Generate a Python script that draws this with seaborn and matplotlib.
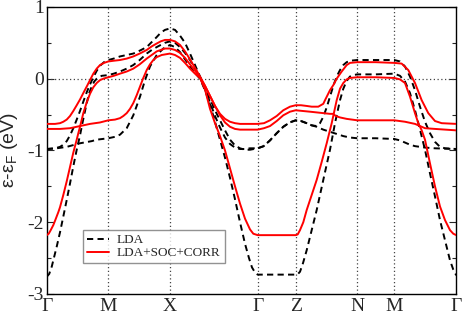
import matplotlib
matplotlib.use("Agg")
import matplotlib.pyplot as plt
from matplotlib.lines import Line2D
from matplotlib.ticker import MultipleLocator
import seaborn as sns
import pandas as pd

# ---------------- data ----------------
KPOINT_POS = [0, 61.6, 123.3, 211.0, 249.0, 310.6, 347.6, 409.6]
KPOINT_LBL = ["Γ", "M", "X", "Γ", "Z", "N", "M", "Γ"]
YTICKS = [-3, -2, -1, 0, 1]
YTICK_LBL = ["-3", "-2", "-1", "0", "1"]
SERIES = ["LDA", "LDA+SOC+CORR"]

# LDA bands (black dashed)
LDA1_K = [0, 8.3, 13.3, 16.6, 20, 23.3, 26.6, 30, 33.3, 36.6, 40, 43.3, 46.6, 50, 53.3, 57.3, 61.6,
          67, 73.3, 80, 86.6, 93, 100, 105, 110, 114, 118.3, 123.3,
          128.3, 133.3, 138.3, 143.3, 148.3, 153.3, 158.3, 163.3, 168.3, 173.3, 178.3, 183.3, 188.3, 193.3, 198.3, 203.3, 211,
          217, 223.3, 230, 236.6, 243, 249,
          254.3, 260, 265, 270, 273.3, 276.6, 280, 283.3, 286.6, 290, 293.3, 296.6, 300, 303.3, 310.6,
          329, 347.6,
          353.3, 358.3, 363.3, 368.3, 373.3, 378.3, 383.3, 388.3, 393.3, 398.3, 409.6]
LDA1_E = [-0.98, -0.97, -0.95, -0.92, -0.87, -0.79, -0.69, -0.57, -0.45, -0.32, -0.19, -0.08, 0.02, 0.11, 0.18, 0.23, 0.26,
          0.28, 0.31, 0.33, 0.35, 0.39, 0.44, 0.51, 0.58, 0.64, 0.68, 0.70,
          0.68, 0.60, 0.50, 0.35, 0.19, 0.03, -0.13, -0.28, -0.44, -0.58, -0.72, -0.85, -0.93, -0.97, -0.99, -0.99, -0.97,
          -0.94, -0.86, -0.76, -0.67, -0.61, -0.58,
          -0.59, -0.62, -0.65, -0.66, -0.62, -0.53, -0.40, -0.25, -0.10, 0.03, 0.12, 0.19, 0.23, 0.25, 0.26,
          0.26, 0.26,
          0.24, 0.17, 0.03, -0.16, -0.39, -0.60, -0.76, -0.88, -0.95, -0.97, -0.98]

LDA2_K = [0, 2.5, 5, 7.5, 10, 13.3, 16.6, 20, 23.3, 26.6, 30, 33.3, 35, 36.6, 40, 42.5, 45, 47.5, 50, 55, 61.6,
          67, 73.3, 80, 86.6, 93, 100, 105, 110, 114, 118.3, 123.3,
          128.3, 133.3, 138.3, 143.3, 148.3, 153.3, 158.3, 163.3, 168.3, 173.3, 178.3, 183.3, 188.3, 193.3, 198.3, 203.3, 211,
          217, 223.3, 230, 236.6, 243, 249,
          254.3, 260, 265, 270, 276.6, 283.3, 290, 296.6, 303.3, 310.6,
          329, 347.6,
          353.3, 358.3, 363.3, 368.3, 373.3, 378.3, 388.3, 409.6]
LDA2_E = [-2.76, -2.72, -2.62, -2.48, -2.34, -2.14, -1.92, -1.69, -1.46, -1.22, -0.99, -0.79, -0.67, -0.56, -0.34, -0.20, -0.11, -0.04, 0.0, 0.04, 0.05,
          0.07, 0.10, 0.14, 0.19, 0.26, 0.35, 0.40, 0.44, 0.47, 0.50, 0.52,
          0.50, 0.44, 0.36, 0.26, 0.14, 0.02, -0.15, -0.33, -0.52, -0.68, -0.82, -0.91, -0.96, -0.98, -0.98, -0.97, -0.97,
          -0.94, -0.86, -0.76, -0.67, -0.61, -0.58,
          -0.59, -0.62, -0.65, -0.67, -0.71, -0.74, -0.77, -0.80, -0.82, -0.83,
          -0.83, -0.84,
          -0.86, -0.89, -0.92, -0.94, -0.95, -0.96, -0.97, -0.98]

LDA3_K = [0, 10, 20, 33.3, 45, 50, 61.6,
          68.3, 73.3, 80, 86.6, 93.3, 98.3, 103.3, 110, 116.6, 123.3,
          128.3, 133.3, 138.3, 143.3, 148.3, 153.3, 158.3, 163.3, 168.3, 173.3, 178.3, 183.3, 188.3, 193.3, 198.3, 202.3, 205.3, 208.3, 211,
          249,
          251.3, 253.3, 256.3, 260, 265, 270, 276.6, 283.3, 288.3, 293.3, 296.6, 300, 303.3, 306.6, 310.6,
          329, 347.6,
          353.3, 358.3, 363.3, 368.3, 373.3, 378.3, 383.3, 388.3, 393.3, 398.3, 403.3, 406.6, 409.6]
LDA3_E = [-0.98, -0.97, -0.95, -0.90, -0.87, -0.85, -0.83,
          -0.81, -0.78, -0.69, -0.51, -0.25, -0.02, 0.17, 0.33, 0.42, 0.47,
          0.44, 0.37, 0.27, 0.17, 0.08, 0.0, -0.16, -0.36, -0.60, -0.85, -1.10, -1.38, -1.68, -2.0, -2.3, -2.5, -2.63, -2.70, -2.73,
          -2.73,
          -2.72, -2.69, -2.57, -2.39, -2.11, -1.83, -1.41, -0.99, -0.62, -0.30, -0.14, -0.03, 0.03, 0.05, 0.06,
          0.06, 0.07,
          0.04, -0.04, -0.20, -0.44, -0.71, -0.99, -1.32, -1.64, -1.97, -2.25, -2.53, -2.66, -2.74]

# LDA+SOC+CORR bands (red)
CORR1_K = [0, 8.3, 13.3, 16.6, 20, 23.3, 26.6, 30, 33.3, 36.6, 40, 43.3, 46.6, 50, 53.3, 57.3, 61.6,
           67, 73.3, 80, 86.6, 93, 100, 105, 110, 114, 118.3, 123.3,
           128.3, 133.3, 138.3, 143.3, 148.3, 153.3, 158.3, 163.3, 168.3, 173.3, 178.3, 183.3, 188.3, 193.3, 211,
           217.3, 223.3, 230, 236.6, 243.3, 249,
           254.3, 260, 265, 271.6, 276.6, 278.3, 283.3, 286.6, 290, 295, 300, 303.3, 310.6,
           329, 347.6,
           355, 361.6, 368.3, 375, 381.6, 388.3, 395, 409.6]
CORR1_E = [-0.63, -0.63, -0.62, -0.60, -0.57, -0.52, -0.45, -0.37, -0.29, -0.20, -0.11, -0.02, 0.07, 0.14, 0.19, 0.22, 0.24,
           0.25, 0.26, 0.28, 0.31, 0.35, 0.40, 0.45, 0.49, 0.52, 0.54, 0.54,
           0.52, 0.47, 0.38, 0.27, 0.15, 0.03, -0.10, -0.24, -0.38, -0.49, -0.56, -0.60, -0.62, -0.63, -0.63,
           -0.62, -0.58, -0.52, -0.44, -0.39, -0.37,
           -0.37, -0.38, -0.39, -0.39, -0.35, -0.30, -0.16, -0.09, 0.0, 0.10, 0.19, 0.22, 0.23,
           0.23, 0.22,
           0.21, 0.12, -0.06, -0.30, -0.48, -0.59, -0.62, -0.63]

CORR2_K = [0, 2, 4, 6.6, 8.3, 11.6, 13.3, 16.6, 20, 23.3, 26.6, 30, 31.6, 33.3, 36.6, 40, 43.3, 46.6, 50, 53.3, 56.6, 61.6,
           67, 73.3, 80, 86.6, 93, 100, 105, 110, 114, 118.3, 123.3,
           128.3, 133.3, 138.3, 143.3, 148.3, 153.3, 158.3, 163.3, 168.3, 173.3, 178.3, 183.3, 188.3, 193.3, 211,
           217.3, 223.3, 230, 236.6, 243.3, 249,
           256, 263.3, 270, 276.6, 283.3, 286.6, 289, 293.3, 300, 310.6,
           329, 347.6,
           358.3, 368.3, 373.3, 378.3, 388.3, 409.6]
CORR2_E = [-2.18, -2.16, -2.11, -2.04, -1.98, -1.86, -1.79, -1.62, -1.43, -1.23, -1.03, -0.85, -0.76, -0.67, -0.48, -0.33, -0.21, -0.12, -0.06, -0.02, 0.0, 0.02,
           0.04, 0.07, 0.10, 0.14, 0.20, 0.28, 0.33, 0.38, 0.40, 0.42, 0.42,
           0.40, 0.36, 0.29, 0.20, 0.11, 0.02, -0.10, -0.24, -0.38, -0.51, -0.61, -0.67, -0.70, -0.71, -0.71,
           -0.69, -0.66, -0.59, -0.51, -0.46, -0.44,
           -0.45, -0.46, -0.47, -0.48, -0.49, -0.49, -0.52, -0.54, -0.56, -0.58,
           -0.58, -0.58,
           -0.60, -0.63, -0.66, -0.69, -0.70, -0.72]

CORR3_K = [0, 13.3, 23.3, 33.3, 43.3, 53.3, 61.6,
           68.3, 73.3, 76.6, 80, 83.3, 86.6, 90, 93.3, 96.6, 100, 103.3, 106.6, 110, 115, 123.3,
           128.3, 133.3, 138.3, 143.3, 148.3, 153.3, 158.3, 163.3, 168.3, 173.3, 178.3, 183.3, 188.3, 193.3, 198.3, 203.3, 206.6, 211,
           249,
           251, 253.3, 256.6, 260, 265, 270, 275, 280, 285, 290, 293.3, 296.6, 300, 303.3, 310.6,
           329, 347.6,
           353.3, 358.3, 363.3, 368.3, 371.6, 375, 378.3, 383.3, 388.3, 393.3, 398.3, 403.3, 406.6, 409.6]
CORR3_E = [-0.70, -0.70, -0.69, -0.66, -0.63, -0.61, -0.58,
           -0.57, -0.55, -0.52, -0.48, -0.42, -0.34, -0.23, -0.11, 0.01, 0.12, 0.20, 0.26, 0.30, 0.33, 0.35,
           0.33, 0.29, 0.22, 0.14, 0.07, 0.01, -0.15, -0.42, -0.62, -0.80, -1.00, -1.25, -1.50, -1.74, -1.95, -2.10, -2.16, -2.18,
           -2.18,
           -2.17, -2.11, -2.0, -1.83, -1.62, -1.41, -1.16, -0.90, -0.62, -0.30, -0.14, -0.06, -0.01, 0.01, 0.02,
           0.02, 0.01,
           -0.01, -0.06, -0.25, -0.48, -0.62, -0.72, -0.85, -1.18, -1.50, -1.78, -1.97, -2.11, -2.16, -2.18]

# ---------------- build table ----------------
frames = []
for name, series, k, e in [
    ("L1", SERIES[0], LDA1_K, LDA1_E),
    ("L2", SERIES[0], LDA2_K, LDA2_E),
    ("L3", SERIES[0], LDA3_K, LDA3_E),
    ("C1", SERIES[1], CORR1_K, CORR1_E),
    ("C2", SERIES[1], CORR2_K, CORR2_E),
    ("C3", SERIES[1], CORR3_K, CORR3_E),
]:
    frames.append(pd.DataFrame({"k": k, "E": e, "band": name, "calc": series}))
df = pd.concat(frames, ignore_index=True)

# ---------------- plot ----------------
sns.set_style("ticks")
plt.rcParams["font.family"] = ["Liberation Serif", "DejaVu Serif"]

fig = plt.figure(figsize=(4.63, 3.14), dpi=100)
ax = fig.add_axes([0.1009, 0.0637, 0.8846, 0.9143])

# guide lines
for kp in KPOINT_POS[1:-1]:
    ax.axvline(kp, color="#444444", lw=0.9, ls=(0, (1, 2)), zorder=1)
ax.axhline(0, color="#444444", lw=0.9, ls=(0, (1, 2)), zorder=1)

colors = {SERIES[0]: "black", SERIES[1]: "#ff0000"}
dashes = {SERIES[0]: (3.2, 2.2), SERIES[1]: ""}

sns.lineplot(data=df[df.calc == SERIES[0]], x="k", y="E", units="band", estimator=None,
             sort=False, hue="calc", style="calc", palette=colors, dashes=dashes,
             lw=1.4, legend=False, ax=ax, zorder=2)
sns.lineplot(data=df[df.calc == SERIES[1]], x="k", y="E", units="band", estimator=None,
             sort=False, hue="calc", style="calc", palette=colors, dashes=dashes,
             lw=1.4, legend=False, ax=ax, zorder=3)

ax.set_xlim(KPOINT_POS[0], KPOINT_POS[-1])
ax.set_ylim(-3, 1)
ax.set_xticks(KPOINT_POS)
ax.set_xticklabels(KPOINT_LBL, fontsize=14)
ax.set_yticks(YTICKS)
ax.set_yticklabels(YTICK_LBL, fontsize=14)
ax.yaxis.set_minor_locator(MultipleLocator(0.5))
ax.tick_params(axis="x", length=0, pad=3)
ax.tick_params(axis="y", which="major", direction="in", length=5, width=0.8, left=True, right=True, pad=2)
ax.tick_params(axis="y", which="minor", direction="in", length=3, width=0.8, left=True, right=True)
ax.set_xlabel("")
ax.set_ylabel("ε-ε$_\\mathregular{F}$ (eV)", fontsize=14, family=["Liberation Sans", "DejaVu Sans"])
ax.yaxis.set_label_coords(-0.065, 0.5)
for s in ax.spines.values():
    s.set_linewidth(1.0)
    s.set_color("black")

handles = [Line2D([], [], color="black", lw=1.4, ls=(0, (3.2, 2.2))),
           Line2D([], [], color="#ff0000", lw=1.4)]
leg = ax.legend(handles, SERIES, loc="lower left", bbox_to_anchor=(0.088, 0.107),
                borderaxespad=0, fancybox=False, frameon=True, edgecolor="#777777",
                fontsize=9.5, handlelength=1.7, handletextpad=0.6, labelspacing=0.05,
                borderpad=0.3)
leg.get_frame().set_linewidth(1.0)

fig.savefig("out.png", dpi=100)
